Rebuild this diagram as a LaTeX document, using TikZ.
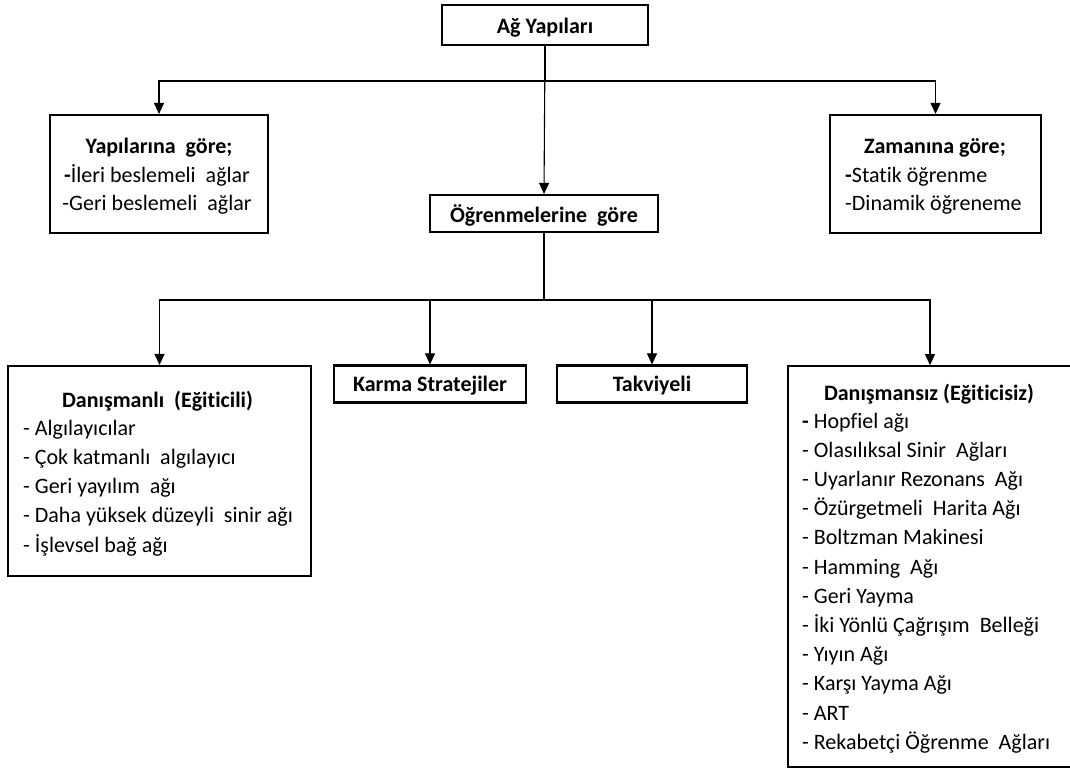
\documentclass[tikz,border=0pt]{standalone}
\usepackage{fontspec}
\setmainfont{Carlito}[Ligatures={NoCommon,NoRare,NoContextual}]
\usetikzlibrary{arrows.meta}
% a wider gap between two words
\newcommand{\wgap}{\hspace{0.226em}}

\begin{document}
\begin{tikzpicture}[x=1pt,y=-1pt,
  box/.style={draw, rectangle, line width=2.2pt, inner sep=0pt},
  wire/.style={line width=1.1pt},
  link/.style={wire, -{Triangle[length=11pt,width=10pt]}},
  body/.style={inner sep=0pt, font=\fontsize{22}{26}\selectfont},
  item/.style={body, anchor=base west},
  centred/.style={body, anchor=base},
  head/.style={centred, font=\fontsize{22}{26}\selectfont\bfseries},
]
\useasboundingbox (0,0) rectangle (1070,769);
\clip (0,0) rectangle (1070,769);

% boxes
\node[box, minimum width=206pt, minimum height=40pt]  (root) at (545,25) {};
\node[box, minimum width=218pt, minimum height=118pt] (yap)  at (159,174) {};
\node[box, minimum width=211pt, minimum height=118pt] (zam)  at (935.5,174) {};
\node[box, minimum width=228pt, minimum height=37pt]  (ogr)  at (544,213.5) {};
\node[box, minimum width=303pt, minimum height=210pt] (dan)  at (159.5,471) {};
\node[box, minimum width=192pt, minimum height=37pt]  (kar)  at (430,384) {};
\node[box, minimum width=190pt, minimum height=37pt]  (tak)  at (652,384) {};
\node[box, anchor=north west, minimum width=310pt, minimum height=401pt] (dsz) at (786.9,365.1) {};

% bus levels and drop points
\coordinate (busTop) at (0,81);
\coordinate (busLow) at (0,300);
\coordinate (dszDrop) at (930,0);

% connectors
\draw[link] (root.south) -- (root.south |- busTop) -| (yap.north);
\draw[link] (root.south) -- (root.south |- busTop) -| (zam.north);
\draw[link] (root.south) -- (ogr.north);
\draw[link] (ogr.south) -- (ogr.south |- busLow) -| (dan.north);
\draw[link] (ogr.south) -- (ogr.south |- busLow) -| (kar.north);
\draw[link] (ogr.south) -- (ogr.south |- busLow) -| (tak.north);
\draw[link] (ogr.south) -- (ogr.south |- busLow) -| (dsz.north -| dszDrop);

% texts
\node[head] (rootT) at (545,33) {Ağ Yapıları};

\node[head] (yapT) at (159,153) {Yapılarına\wgap{} göre;};
\node[centred] (yap1) at (157,182) {\textbf{-}İleri beslemeli\wgap{} ağlar};
\node[centred] (yap2) at (157,210) {-Geri beslemeli\wgap{} ağlar};

\node[head] (zamT) at (935,153) {Zamanına göre;};
\node[item] (zam1) at (845,182) {\textbf{-}Statik öğrenme};
\node[item] (zam2) at (845,210) {-Dinamik öğreneme};

\node[head] (ogrT) at (544,222) {Öğrenmelerine\wgap{} göre};
\node[head] (karT) at (430,391) {Karma Stratejiler};
\node[head] (takT) at (652,391) {Takviyeli};

\node[head] (danT) at (157.5,407) {Danışmanlı\wgap{} (Eğiticili)};
\foreach \t [count=\i from 0] in {- Algılayıcılar, - Çok katmanlı\wgap{} algılayıcı,
    - Geri yayılım\wgap{} ağı, - Daha yüksek düzeyli\wgap{} sinir ağı, - İşlevsel bağ ağı}
  \node[item] (dan-\i) at (23,{435+29.25*\i}) {\t};

\node[head] (dszT) at (929,400) {Danışmansız (Eğiticisiz)};
\foreach \t [count=\i from 0] in {{\textbf{-} Hopfiel ağı}, - Olasılıksal Sinir\wgap{} Ağları,
    - Uyarlanır Rezonans\wgap{} Ağı, - Özürgetmeli\wgap{} Harita Ağı, - Boltzman Makinesi,
    - Hamming\wgap{} Ağı, - Geri Yayma, - İki Yönlü Çağrışım\wgap{} Belleği, - Yıyın Ağı,
    - Karşı Yayma Ağı, - ART, - Rekabetçi Öğrenme\wgap{} Ağları}
  \node[item] (dsz-\i) at (802,{428+29.2*\i}) {\t};
\end{tikzpicture}
\end{document}
